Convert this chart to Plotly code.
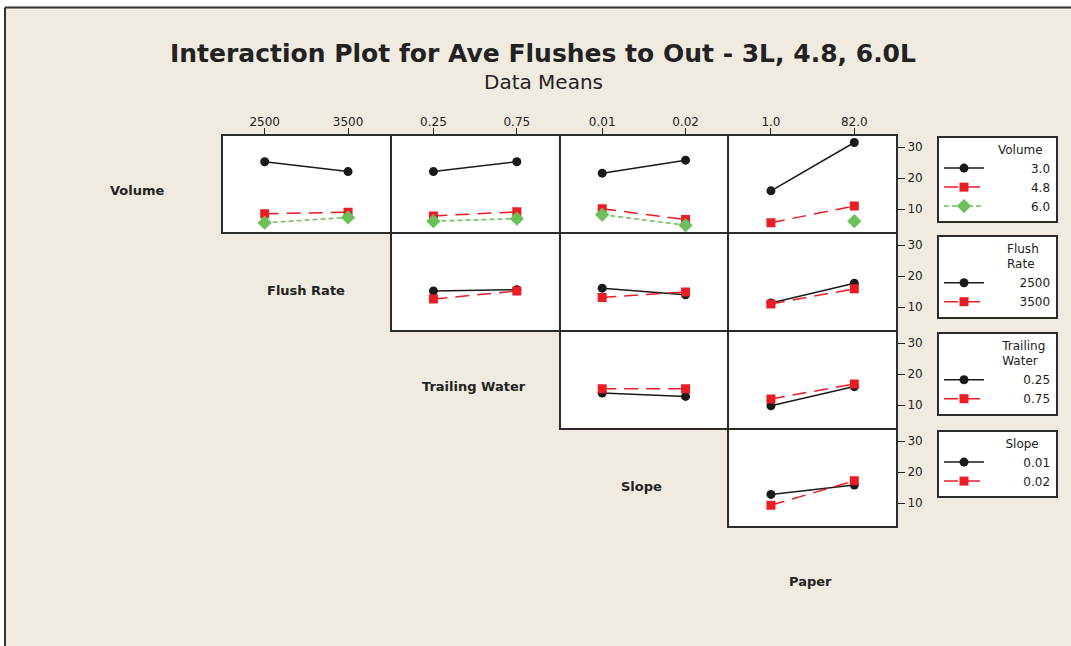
import plotly.graph_objects as go

# Factor levels
volume_levels = ["3.0", "4.8", "6.0"]
flush_levels = ["2500", "3500"]
trailing_levels = ["0.25", "0.75"]
slope_levels = ["0.01", "0.02"]
paper_levels = ["1.0", "82.0"]

# Mean flushes to out, by row factor level (rows) x column factor level (columns)
vol_by_flush = [[25.3, 22.1], [8.5, 9.0], [5.6, 7.3]]
vol_by_trailing = [[22.1, 25.3], [7.8, 9.1], [6.1, 6.9]]
vol_by_slope = [[21.6, 25.8], [10.1, 6.6], [8.2, 4.8]]
vol_by_paper = [[15.9, 31.5], [5.6, 11.0], [None, 6.1]]

flush_by_trailing = [[15.2, 15.6], [12.6, 15.2]]
flush_by_slope = [[16.1, 14.0], [13.1, 14.9]]
flush_by_paper = [[11.3, 17.7], [11.0, 15.9]]

trailing_by_slope = [[13.9, 12.8], [15.3, 15.3]]
trailing_by_paper = [[9.8, 16.0], [12.0, 16.8]]

slope_by_paper = [[12.8, 15.8], [9.3, 17.2]]

factor_names = ["Volume", "Flush Rate", "Trailing Water", "Slope", "Paper"]
# legend titles, one list entry per line
legend_titles = [["Volume"], ["Flush", "Rate"], ["Trailing", "Water"], ["Slope"]]
y_ticks = [10, 20, 30]

row_levels = [volume_levels, flush_levels, trailing_levels, slope_levels]
col_levels = [flush_levels, trailing_levels, slope_levels, paper_levels]
panel_data = {
    (0, 0): vol_by_flush, (0, 1): vol_by_trailing, (0, 2): vol_by_slope, (0, 3): vol_by_paper,
    (1, 1): flush_by_trailing, (1, 2): flush_by_slope, (1, 3): flush_by_paper,
    (2, 2): trailing_by_slope, (2, 3): trailing_by_paper,
    (3, 3): slope_by_paper,
}

# Page geometry (pixels)
W, H = 1071, 646
COL_X0, COL_W = 222, 168.75
ROW_Y0, ROW_H = 135, 98
Y_RANGE = [2.6, 33.6]
LW = 2          # panel frame width
INSET = LW / 2  # frame lines are drawn outside the plot area; centre them on cell edges

BG = "#F0EBE1"
INK = "#222222"
FRAME = "#2b2b2b"
FONT = "DejaVu Sans"
NBSP = "\u00a0"

styles = [
    dict(color="#1a1a1a", symbol="circle", size=9, dash="solid"),
    dict(color="#EC1C24", symbol="square", size=9, dash="14px,8px"),
    dict(color="#6CBF5A", symbol="diamond", size=11, dash="5px,3px"),
]


def px_x(v):
    return v / W


def px_y(v):
    return 1 - v / H


def legend_label(text, units=16):
    # right-align level labels: in DejaVu Sans a digit is two no-break spaces wide,
    # a period is one
    used = sum(1 if ch == "." else 2 for ch in text)
    return NBSP * max(units - used, 0) + text


def legend_title(lines):
    # centre each title line over the level-label column
    out = []
    for line in lines:
        pad = max(0, round((70 - len(line) * 7.6) / 2 / 3.8))
        out.append(line + NBSP * pad)
    return "<br>".join(out)


fig = go.Figure()
layout = {}
legend_names = ["legend", "legend2", "legend3", "legend4"]

idx = 0
for (r, c), table in panel_data.items():
    idx += 1
    xa = "xaxis" if idx == 1 else f"xaxis{idx}"
    ya = "yaxis" if idx == 1 else f"yaxis{idx}"
    xref = "x" if idx == 1 else f"x{idx}"
    yref = "y" if idx == 1 else f"y{idx}"

    x0 = COL_X0 + COL_W * c
    y0 = ROW_Y0 + ROW_H * r
    top_row = r == 0
    right_col = c == 3

    layout[xa] = dict(
        domain=[px_x(x0 + INSET), px_x(x0 + COL_W - INSET)],
        anchor=yref, type="category", range=[-0.5, 1.5],
        categoryorder="array", categoryarray=col_levels[c],
        side="top" if top_row else "bottom",
        showticklabels=top_row, ticks="outside" if top_row else "",
        ticklen=6, tickwidth=1.2, tickcolor=INK, ticklabelstandoff=-3,
        tickfont=dict(family=FONT, size=12, color=INK),
        showline=True, mirror=True, linecolor=FRAME, linewidth=LW,
        showgrid=False, zeroline=False, fixedrange=True,
    )
    layout[ya] = dict(
        domain=[px_y(y0 + ROW_H - INSET), px_y(y0 + INSET)],
        anchor=xref, range=Y_RANGE, tickvals=y_ticks,
        side="right", showticklabels=right_col, ticks="outside" if right_col else "",
        ticklen=7, tickwidth=1.2, tickcolor=INK,
        tickfont=dict(family=FONT, size=12, color=INK),
        showline=True, mirror=True, linecolor=FRAME, linewidth=LW,
        showgrid=False, zeroline=False, fixedrange=True,
    )

    for k, (level, values) in enumerate(zip(row_levels[r], table)):
        st = styles[k]
        fig.add_trace(go.Scatter(
            x=col_levels[c], y=values, xaxis=xref, yaxis=yref,
            mode="lines+markers", name=legend_label(level),
            line=dict(color=st["color"], width=1.5, dash=st["dash"]),
            marker=dict(color=st["color"], symbol=st["symbol"], size=st["size"]),
            legend=legend_names[r], legendgroup=f"{r}-{level}",
            showlegend=(c == r), connectgaps=False,
        ))

# Legend boxes on the right
legend_tops = [136, 235, 332, 430]
for r, name in enumerate(legend_names):
    layout[name] = dict(
        x=px_x(937), y=px_y(legend_tops[r]), xanchor="left", yanchor="top",
        bgcolor="white", bordercolor=FRAME, borderwidth=2,
        font=dict(family=FONT, size=12, color=INK),
        title=dict(text=legend_title(legend_titles[r]), side="top right",
                   font=dict(family=FONT, size=12, color=INK)),
        itemwidth=40, tracegroupgap=0,
    )

annotations = [
    dict(text="<b>Interaction Plot for Ave Flushes to Out - 3L, 4.8, 6.0L</b>",
         x=px_x(543), y=px_y(54), xref="paper", yref="paper",
         xanchor="center", yanchor="middle",
         showarrow=False, font=dict(family=FONT, size=25, color=INK)),
    dict(text="Data Means", x=px_x(543), y=px_y(82), xref="paper", yref="paper",
         xanchor="center", yanchor="middle",
         showarrow=False, font=dict(family=FONT, size=20, color=INK)),
]
label_pos = [(138, 190), (306, 290), (474, 386), (641, 486), (810, 581)]
for name, (lx, ly) in zip(factor_names, label_pos):
    annotations.append(dict(
        text=f"<b>{name}</b>", x=px_x(lx), y=px_y(ly), xref="paper", yref="paper",
        xanchor="center", yanchor="middle",
        showarrow=False, font=dict(family=FONT, size=13, color=INK)))

# Frame: white margin strip at top/left and dark border line
shapes = [
    dict(type="rect", xref="paper", yref="paper", x0=0, x1=1, y0=px_y(7), y1=1,
         fillcolor="white", line=dict(width=0), layer="above"),
    dict(type="rect", xref="paper", yref="paper", x0=0, x1=px_x(4), y0=0, y1=1,
         fillcolor="white", line=dict(width=0), layer="above"),
    dict(type="line", xref="paper", yref="paper", x0=px_x(5), x1=1, y0=px_y(7.5), y1=px_y(7.5),
         line=dict(color="#333333", width=2), layer="above"),
    dict(type="line", xref="paper", yref="paper", x0=px_x(5), x1=px_x(5), y0=0, y1=px_y(7.5),
         line=dict(color="#333333", width=2), layer="above"),
]

fig.update_layout(
    width=W, height=H, margin=dict(l=0, r=0, t=0, b=0),
    paper_bgcolor=BG, plot_bgcolor="white",
    annotations=annotations, shapes=shapes,
    font=dict(family=FONT, color=INK),
    **layout,
)

fig.write_html("out.html", config={"displayModeBar": False})
